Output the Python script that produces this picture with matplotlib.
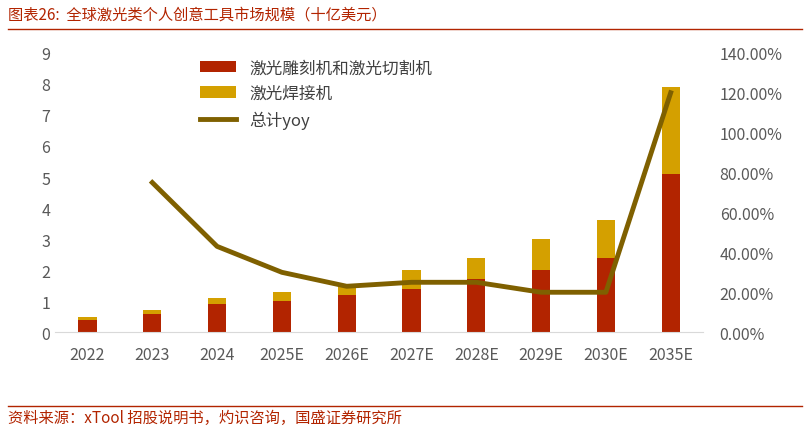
import matplotlib
matplotlib.use("Agg")
import matplotlib.pyplot as plt
from matplotlib.ticker import FuncFormatter

plt.rcParams['font.family'] = ['Noto Sans CJK SC', 'DejaVu Sans']

years = ["2022", "2023", "2024", "2025E", "2026E", "2027E", "2028E", "2029E", "2030E", "2035E"]
engrave_cut = [0.4, 0.6, 0.9, 1.0, 1.2, 1.4, 1.7, 2.0, 2.4, 5.1]
welding = [0.1, 0.1, 0.2, 0.3, 0.35, 0.6, 0.7, 1.0, 1.2, 2.8]
yoy_years = ["2023", "2024", "2025E", "2026E", "2027E", "2028E", "2029E", "2030E", "2035E"]
yoy = [0.75, 0.43, 0.30, 0.23, 0.25, 0.25, 0.20, 0.20, 1.20]

fig = plt.figure(figsize=(8.1, 4.31), dpi=100)
ax = fig.add_axes([0.068, 0.227, 0.80, 0.648])
x = list(range(len(years)))
ax.bar(x, engrave_cut, width=0.28, color='#B22400', label='激光雕刻机和激光切割机')
ax.bar(x, welding, width=0.28, bottom=engrave_cut, color='#D4A000', label='激光焊接机')
ax.set_ylim(0, 9)
ax.set_yticks(range(10))
ax.set_xlim(-0.5, len(years) - 0.5)
ax.set_xticks(x)
ax.set_xticklabels(years)
for s in ['top', 'right', 'left']:
    ax.spines[s].set_visible(False)
ax.spines['bottom'].set_color('#d9d9d9')
ax.tick_params(length=0, labelsize=11.5, colors='#595959')
ax.tick_params(axis='x', pad=10)

ax2 = ax.twinx()
yx = [years.index(y) for y in yoy_years]
ax2.plot(yx, yoy, color='#7F6000', lw=3.5, label='总计yoy')
ax2.set_ylim(0, 1.4)
ax2.set_yticks([i * 0.2 for i in range(8)])
ax2.yaxis.set_major_formatter(FuncFormatter(lambda v, p: f"{v*100:.2f}%"))
for s in ax2.spines.values():
    s.set_visible(False)
ax2.tick_params(length=0, labelsize=11.5, colors='#595959', pad=12)

h1, l1 = ax.get_legend_handles_labels()
h2, l2 = ax2.get_legend_handles_labels()
ax.legend(h1 + h2, l1 + l2, loc='upper left', bbox_to_anchor=(0.2, 1.03), frameon=False,
          fontsize=12, labelcolor='#404040', handlelength=2.2)

fig.text(0.01, 0.965, "图表26:  全球激光类个人创意工具市场规模（十亿美元）", color='#B22400',
         fontsize=11, style='italic', va='center')
fig.add_artist(plt.Line2D([0.01, 0.99], [0.93, 0.93], color='#B22400', lw=1))
fig.add_artist(plt.Line2D([0.01, 0.99], [0.055, 0.055], color='#B22400', lw=1))
fig.text(0.01, 0.028, "资料来源：xTool 招股说明书，灼识咨询，国盛证券研究所", color='#B22400',
         fontsize=11, style='italic', va='center')
fig.savefig("out.png", dpi=100)
